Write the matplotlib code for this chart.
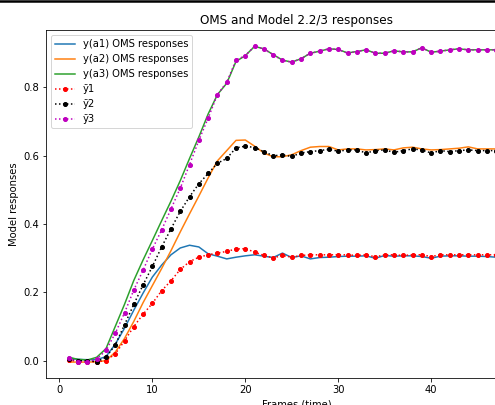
import matplotlib
matplotlib.use("Agg")
import matplotlib.pyplot as plt
from matplotlib.lines import Line2D

frames = list(range(1, 51))

# OMS responses (solid lines)
ya1 = [0.008, 0.004, 0.003, 0.003, 0.012, 0.048, 0.095, 0.148, 0.198, 0.245,
       0.280, 0.310, 0.330, 0.338, 0.333, 0.313, 0.306, 0.298, 0.303, 0.307,
       0.310, 0.306, 0.302, 0.315, 0.302, 0.307, 0.298, 0.302, 0.303, 0.305,
       0.306, 0.306, 0.307, 0.300, 0.308, 0.306, 0.307, 0.307, 0.305, 0.300,
       0.306, 0.307, 0.307, 0.306, 0.306, 0.305, 0.303, 0.305, 0.305, 0.305]
ya2 = [-0.004, -0.004, -0.004, -0.003, 0.000, 0.025, 0.065, 0.115, 0.170, 0.220,
       0.270, 0.322, 0.377, 0.430, 0.482, 0.535, 0.585, 0.615, 0.645, 0.646,
       0.628, 0.608, 0.597, 0.597, 0.603, 0.615, 0.625, 0.627, 0.627, 0.617,
       0.620, 0.620, 0.617, 0.618, 0.620, 0.617, 0.623, 0.625, 0.620, 0.617,
       0.618, 0.620, 0.622, 0.626, 0.620, 0.620, 0.620, 0.620, 0.620, 0.620]
ya3 = [0.010, 0.004, 0.002, 0.010, 0.035, 0.100, 0.165, 0.235, 0.295, 0.352,
       0.410, 0.467, 0.527, 0.592, 0.655, 0.722, 0.779, 0.812, 0.876, 0.893,
       0.920, 0.913, 0.896, 0.880, 0.874, 0.884, 0.900, 0.906, 0.913, 0.911,
       0.901, 0.905, 0.910, 0.900, 0.900, 0.907, 0.904, 0.904, 0.916, 0.903,
       0.906, 0.910, 0.913, 0.910, 0.910, 0.910, 0.910, 0.908, 0.910, 0.909]

# model responses (dotted with markers)
m1 = [0.003, -0.003, -0.003, -0.003, 0.000, 0.020, 0.058, 0.100, 0.136, 0.168,
      0.205, 0.234, 0.267, 0.290, 0.303, 0.310, 0.315, 0.320, 0.327, 0.328,
      0.318, 0.308, 0.301, 0.308, 0.303, 0.308, 0.310, 0.310, 0.310, 0.310,
      0.310, 0.308, 0.310, 0.304, 0.310, 0.310, 0.308, 0.310, 0.310, 0.305,
      0.310, 0.310, 0.310, 0.310, 0.310, 0.310, 0.310, 0.310, 0.310, 0.310]
m2 = [0.005, 0.000, 0.000, -0.003, 0.010, 0.046, 0.105, 0.165, 0.222, 0.276,
      0.333, 0.386, 0.437, 0.480, 0.518, 0.548, 0.578, 0.592, 0.623, 0.628,
      0.624, 0.612, 0.600, 0.602, 0.598, 0.608, 0.612, 0.615, 0.619, 0.613,
      0.617, 0.617, 0.608, 0.615, 0.617, 0.610, 0.615, 0.620, 0.617, 0.608,
      0.615, 0.612, 0.615, 0.617, 0.615, 0.615, 0.615, 0.614, 0.616, 0.615]
m3 = [0.007, -0.003, -0.003, 0.005, 0.030, 0.080, 0.140, 0.207, 0.265, 0.327,
      0.383, 0.444, 0.505, 0.574, 0.645, 0.710, 0.779, 0.815, 0.880, 0.893,
      0.921, 0.912, 0.896, 0.879, 0.874, 0.884, 0.900, 0.906, 0.913, 0.911,
      0.900, 0.905, 0.910, 0.900, 0.900, 0.907, 0.904, 0.904, 0.916, 0.903,
      0.906, 0.910, 0.913, 0.910, 0.910, 0.910, 0.910, 0.908, 0.910, 0.909]

fig = plt.figure(figsize=(495 / 72, 405 / 72), dpi=72)
ax = fig.add_axes([0.0929, 0.0659, 1.0118, 0.86])

ax.plot(frames, ya1, label='y(a1) OMS responses')
ax.plot(frames, ya2, label='y(a2) OMS responses')
ax.plot(frames, ya3, label='y(a3) OMS responses')
ax.plot(frames, m1, 'r.:', ms=8, label='ỹ1')
ax.plot(frames, m2, 'k.:', ms=8, label='ỹ2')
ax.plot(frames, m3, 'm.:', ms=8, label='ỹ3')

ax.set_xlim(-1.45, 52.45)
ax.set_ylim(-0.0515, 0.968)
ax.set_yticks([0.0, 0.2, 0.4, 0.6, 0.8])
ax.set_title('OMS and Model 2.2/3 responses')
ax.set_xlabel('Frames (time)')
ax.set_ylabel('Model responses')
ax.legend(loc='upper left')

# screenshot border along the top
fig.add_artist(Line2D([0, 1], [0.997, 0.997], transform=fig.transFigure,
                      color='black', linewidth=2.5))

fig.savefig('out.png', dpi=72)
